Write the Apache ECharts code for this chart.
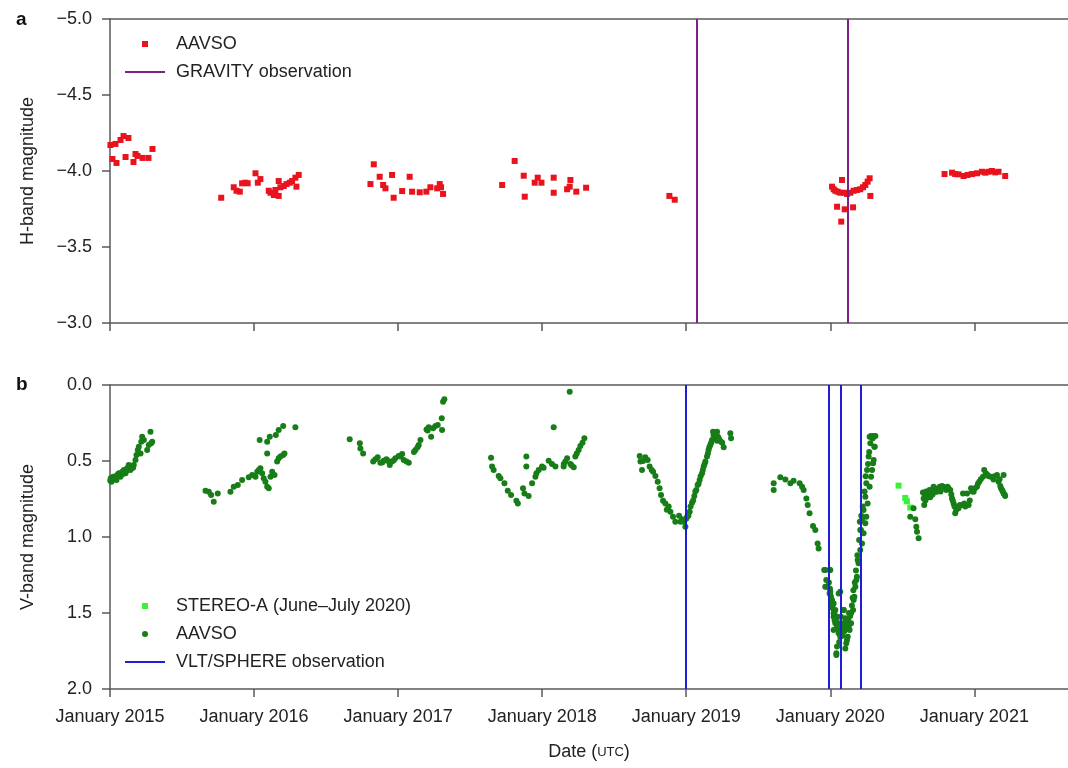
<!DOCTYPE html>
<html>
<head>
<meta charset="utf-8">
<script src="https://cdn.jsdelivr.net/npm/echarts@6/dist/echarts.min.js"></script>
<style>
  html, body { margin: 0; padding: 0; background: #fff; }
  #chart { width: 1068px; height: 768px; }
</style>
</head>
<body>
<div id="chart"></div>
<script>
// Betelgeuse light curves. Dates are decimal years (UTC), values are magnitudes.

// Panel a: H-band magnitudes from AAVSO
const hBandAavso = [
  [2015.003,-4.171],[2015.038,-4.178],[2015.073,-4.204],[2015.094,-4.230],[2015.128,-4.217],
  [2015.017,-4.079],[2015.045,-4.053],[2015.108,-4.092],[2015.163,-4.059],[2015.177,-4.112],
  [2015.191,-4.099],[2015.226,-4.086],[2015.267,-4.086],[2015.295,-4.145],
  [2015.772,-3.824],[2015.859,-3.893],[2015.878,-3.870],[2015.901,-3.864],[2015.917,-3.919],
  [2015.940,-3.923],[2015.956,-3.919],[2016.010,-3.985],[2016.026,-3.923],[2016.044,-3.947],
  [2016.102,-3.870],[2016.114,-3.857],[2016.137,-3.842],[2016.148,-3.875],[2016.171,-3.836],
  [2016.171,-3.934],[2016.183,-3.893],[2016.206,-3.901],[2016.225,-3.914],[2016.248,-3.923],
  [2016.264,-3.934],[2016.287,-3.956],[2016.294,-3.897],[2016.310,-3.974],
  [2016.831,-4.044],[2016.808,-3.914],[2016.872,-3.962],[2016.896,-3.908],[2016.912,-3.886],
  [2016.958,-3.974],[2016.969,-3.824],[2017.028,-3.868],[2017.080,-3.962],[2017.097,-3.864],
  [2017.150,-3.860],[2017.196,-3.864],[2017.224,-3.893],[2017.271,-3.886],[2017.289,-3.914],
  [2017.298,-3.893],[2017.312,-3.849],
  [2017.722,-3.908],[2017.809,-4.066],[2017.872,-3.969],[2017.879,-3.831],[2017.948,-3.923],
  [2017.969,-3.956],[2017.995,-3.923],[2018.080,-3.956],[2018.080,-3.857],[2018.173,-3.880],
  [2018.196,-3.941],[2018.191,-3.897],[2018.237,-3.864],[2018.305,-3.890],
  [2018.883,-3.836],[2018.920,-3.811],
  [2020.012,-3.897],[2020.023,-3.880],[2020.035,-3.870],[2020.051,-3.864],[2020.081,-3.941],
  [2020.069,-3.857],[2020.097,-3.857],[2020.116,-3.849],[2020.139,-3.857],[2020.162,-3.870],
  [2020.185,-3.875],[2020.208,-3.880],[2020.227,-3.893],[2020.243,-3.908],[2020.259,-3.930],
  [2020.273,-3.952],[2020.278,-3.836],[2020.047,-3.765],[2020.100,-3.748],[2020.158,-3.761],
  [2020.076,-3.667],
  [2020.793,-3.980],[2020.845,-3.989],[2020.867,-3.980],[2020.890,-3.978],[2020.925,-3.967],
  [2020.953,-3.974],[2020.983,-3.980],[2021.018,-3.985],[2021.053,-3.995],[2021.076,-3.989],
  [2021.099,-3.995],[2021.122,-4.000],[2021.145,-3.991],[2021.168,-3.995],[2021.214,-3.967]
];

// Panel b: V-band magnitudes from AAVSO
const vBandAavso = [
  // 2015 season
  [2015.005,0.614],[2015.010,0.636],[2015.015,0.625],[2015.022,0.603],[2015.030,0.603],
  [2015.038,0.614],[2015.045,0.625],[2015.050,0.592],[2015.060,0.592],[2015.061,0.581],
  [2015.073,0.603],[2015.080,0.581],[2015.085,0.570],[2015.096,0.559],[2015.100,0.570],
  [2015.108,0.581],[2015.119,0.548],[2015.120,0.559],[2015.130,0.526],[2015.140,0.548],
  [2015.142,0.559],[2015.154,0.537],[2015.165,0.526],[2015.177,0.493],[2015.184,0.461],
  [2015.193,0.428],[2015.200,0.406],[2015.212,0.450],[2015.217,0.373],[2015.223,0.340],
  [2015.235,0.362],[2015.258,0.428],[2015.269,0.395],[2015.281,0.307],[2015.293,0.373],
  [2015.286,0.384],[2015.002,0.630],[2015.026,0.620],[2015.056,0.600],[2015.090,0.585],
  [2015.113,0.560],[2015.136,0.535],[2015.160,0.545],
  // 2016 season
  [2015.663,0.695],[2015.686,0.702],[2015.702,0.724],[2015.720,0.768],[2015.748,0.713],
  [2015.836,0.702],[2015.859,0.669],[2015.887,0.658],[2015.917,0.625],[2015.963,0.607],
  [2015.987,0.592],[2016.010,0.603],[2016.022,0.570],[2016.033,0.559],[2016.044,0.548],
  [2016.056,0.581],[2016.067,0.614],[2016.079,0.636],[2016.091,0.669],[2016.102,0.680],
  [2016.114,0.603],[2016.126,0.570],[2016.142,0.592],[2016.160,0.504],[2016.171,0.482],
  [2016.183,0.471],[2016.202,0.461],[2016.211,0.450],[2016.039,0.362],[2016.091,0.373],
  [2016.109,0.340],[2016.091,0.450],[2016.171,0.296],[2016.202,0.270],[2016.287,0.278],
  [2016.151,0.329],
  // 2017 season
  [2016.664,0.357],[2016.734,0.384],[2016.738,0.417],[2016.757,0.450],[2016.827,0.504],
  [2016.842,0.489],[2016.858,0.476],[2016.877,0.511],[2016.900,0.498],[2016.919,0.489],
  [2016.942,0.526],[2016.958,0.504],[2016.981,0.482],[2017.004,0.467],[2017.028,0.454],
  [2017.039,0.493],[2017.058,0.504],[2017.074,0.511],[2017.120,0.428],[2017.143,0.395],
  [2017.155,0.362],[2017.197,0.292],[2017.212,0.278],[2017.229,0.340],[2017.243,0.285],
  [2017.259,0.270],[2017.275,0.263],[2017.303,0.219],[2017.305,0.296],[2017.312,0.110],
  [2017.321,0.094],[2016.890,0.510],[2016.930,0.500],[2016.970,0.495],[2017.015,0.470],
  [2017.110,0.440],[2017.135,0.410],[2017.205,0.300],
  // 2018 season
  [2017.645,0.478],[2017.652,0.537],[2017.663,0.559],[2017.698,0.599],[2017.710,0.614],
  [2017.738,0.647],[2017.761,0.695],[2017.784,0.724],[2017.821,0.761],[2017.831,0.779],
  [2017.867,0.680],[2017.877,0.713],[2017.906,0.730],[2017.890,0.471],[2017.890,0.537],
  [2017.930,0.647],[2017.953,0.603],[2017.976,0.559],[2017.999,0.537],[2018.045,0.498],
  [2018.068,0.520],[2018.092,0.537],[2018.149,0.537],[2018.161,0.504],[2018.173,0.482],
  [2018.196,0.520],[2018.219,0.541],[2018.230,0.471],[2018.253,0.428],[2018.265,0.401],
  [2018.293,0.351],[2018.080,0.278],[2018.191,0.044],[2017.960,0.580],[2018.010,0.545],
  [2018.150,0.520],[2018.205,0.530],[2018.240,0.450],[2018.280,0.380],
  // 2019 season
  [2018.677,0.467],[2018.682,0.504],[2018.693,0.559],[2018.716,0.476],[2018.732,0.493],
  [2018.746,0.537],[2018.770,0.570],[2018.786,0.599],[2018.802,0.636],[2018.825,0.724],
  [2018.839,0.761],[2018.855,0.779],[2018.878,0.800],[2018.890,0.834],[2018.908,0.866],
  [2018.924,0.899],[2018.971,0.884],[2018.994,0.932],[2019.006,0.866],[2019.024,0.834],
  [2019.040,0.774],[2019.056,0.730],[2019.070,0.691],[2019.079,0.658],[2019.093,0.625],
  [2019.110,0.581],[2019.121,0.537],[2019.133,0.504],[2019.144,0.471],[2019.155,0.428],
  [2019.167,0.395],[2019.179,0.362],[2019.186,0.307],[2019.202,0.340],[2019.214,0.366],
  [2019.225,0.351],[2019.242,0.373],[2019.260,0.410],[2019.214,0.307],[2019.306,0.318],
  [2019.311,0.351],[2018.700,0.500],[2018.760,0.560],[2018.815,0.680],[2018.865,0.820],
  [2018.950,0.860],[2018.960,0.900],[2018.985,0.900],[2019.000,0.880],[2019.015,0.860],
  [2019.030,0.800],[2019.048,0.760],[2019.063,0.700],[2019.086,0.650],[2019.100,0.600],
  [2019.115,0.560],[2019.127,0.520],[2019.150,0.450],[2019.160,0.410],[2019.173,0.380],
  [2019.190,0.330],[2019.196,0.320],[2019.208,0.330],[2019.220,0.340],[2019.230,0.360],
  [2019.250,0.380],
  // 2020 season and the Great Dimming
  [2019.607,0.647],[2019.607,0.691],[2019.653,0.607],[2019.688,0.621],[2019.723,0.647],
  [2019.745,0.630],[2019.787,0.647],[2019.804,0.669],[2019.815,0.691],[2019.834,0.746],
  [2019.843,0.789],[2019.856,0.844],[2019.880,0.928],[2019.896,0.954],[2019.912,1.042],
  [2019.919,1.075],[2019.958,1.217],[2019.995,1.217],[2019.972,1.283],[2019.977,1.327],
  [2020.000,1.360],[2020.012,1.414],[2020.023,1.437],[2020.035,1.480],[2020.047,1.524],
  [2020.051,1.590],[2020.058,1.634],[2020.069,1.656],[2020.047,1.721],[2020.042,1.765],
  [2020.081,1.612],[2020.093,1.568],[2020.104,1.535],[2020.111,1.699],[2020.121,1.656],
  [2020.134,1.612],[2020.144,1.568],[2020.158,1.480],[2020.167,1.393],[2020.174,1.327],
  [2020.185,1.261],[2020.196,1.173],[2020.208,1.086],[2020.213,0.954],[2020.220,0.888],
  [2020.231,0.822],[2020.243,0.735],[2020.250,0.647],[2020.255,0.559],[2020.266,0.471],
  [2020.278,0.384],[2020.283,0.336],[2020.301,0.336],[2020.306,0.406],[2020.297,0.515],
  [2020.290,0.559],[2020.023,1.524],[2020.035,1.568],[2020.093,1.480],[2020.074,1.524],
  [2020.065,1.568],[2020.208,0.954],[2020.220,1.042],[2020.190,1.151],[2020.181,1.283],
  [2020.162,1.414],[2020.144,1.502],[2020.128,1.590],[2020.116,1.678],[2020.104,1.733],
  [2020.042,1.776],[2019.995,1.371],[2019.965,1.327],[2019.965,1.217],[2020.000,1.217],
  [2020.023,1.502],[2020.023,1.612],[2020.058,1.371],[2020.069,1.360],[2020.093,1.480],
  [2020.273,0.340],[2020.313,0.336],[2020.308,0.406],[2020.301,0.493],[2020.283,0.603],
  [2020.273,0.669],[2020.259,0.779],[2020.250,0.866],[2020.243,0.910],[2020.231,0.976],
  [2019.990,1.300],[2019.998,1.340],[2020.004,1.390],[2020.008,1.420],[2020.015,1.450],
  [2020.018,1.470],[2020.028,1.500],[2020.030,1.550],[2020.040,1.540],[2020.044,1.600],
  [2020.055,1.580],[2020.060,1.600],[2020.062,1.690],[2020.072,1.620],[2020.078,1.580],
  [2020.085,1.650],[2020.088,1.600],[2020.097,1.620],[2020.100,1.570],[2020.107,1.600],
  [2020.113,1.560],[2020.125,1.540],[2020.130,1.500],[2020.138,1.520],[2020.150,1.450],
  [2020.155,1.400],[2020.160,1.350],[2020.170,1.300],[2020.178,1.220],[2020.188,1.120],
  [2020.200,1.020],[2020.205,0.900],[2020.215,0.860],[2020.225,0.800],[2020.238,0.700],
  [2020.245,0.600],[2020.262,0.520],[2020.270,0.440],[2020.288,0.345],[2020.295,0.350],
  // 2021 season
  [2020.578,0.811],[2020.555,0.866],[2020.590,0.884],[2020.597,0.932],[2020.602,0.965],
  [2020.613,1.009],[2020.643,0.708],[2020.648,0.746],[2020.652,0.789],[2020.671,0.724],
  [2020.682,0.702],[2020.694,0.739],[2020.706,0.691],[2020.717,0.669],[2020.740,0.702],
  [2020.752,0.680],[2020.775,0.664],[2020.798,0.680],[2020.814,0.669],[2020.833,0.691],
  [2020.845,0.746],[2020.856,0.779],[2020.874,0.822],[2020.867,0.844],[2020.890,0.811],
  [2020.914,0.789],[2020.937,0.800],[2020.960,0.789],[2020.921,0.713],[2020.949,0.713],
  [2020.977,0.680],[2020.995,0.702],[2021.018,0.669],[2021.034,0.636],[2021.060,0.603],
  [2021.068,0.559],[2021.092,0.592],[2021.115,0.603],[2021.133,0.621],[2021.157,0.592],
  [2021.168,0.636],[2021.180,0.664],[2021.192,0.691],[2021.203,0.713],[2021.214,0.730],
  [2021.203,0.592],[2020.655,0.720],[2020.660,0.760],[2020.665,0.700],[2020.676,0.740],
  [2020.688,0.690],[2020.700,0.700],[2020.710,0.720],[2020.725,0.680],[2020.730,0.700],
  [2020.745,0.690],[2020.760,0.670],[2020.765,0.700],[2020.785,0.670],[2020.805,0.690],
  [2020.820,0.680],[2020.840,0.720],[2020.850,0.760],[2020.862,0.800],[2020.880,0.800],
  [2020.900,0.790],[2020.930,0.780],[2020.968,0.760],[2020.985,0.700],[2021.005,0.680],
  [2021.025,0.650],[2021.045,0.620],[2021.080,0.580],[2021.100,0.600],[2021.140,0.600],
  [2021.175,0.620],[2021.185,0.680],[2021.198,0.700],[2021.210,0.720]
];

// Panel b: V-band magnitudes from STEREO-A (June–July 2020)
const vBandStereo = [
  [2020.474,0.662],[2020.520,0.743],[2020.532,0.765],[2020.555,0.806]
];

// Epochs of the interferometric / imaging observations
const gravityDates = [2019.070, 2020.118];
const sphereDates = [2019.001, 2019.986, 2020.074, 2020.210];

// Axis ranges and tick labels
const yearTicks = [2015, 2016, 2017, 2018, 2019, 2020, 2021];
const dateRange = [2015, 2021.65];
const hRange = [-5, -3];
const vRange = [0, 2];
const magStep = 0.5;

const legendNames = {
  hAavso: 'AAVSO',
  gravity: 'GRAVITY observation',
  stereo: 'STEREO-A (June\u2013July 2020)',
  vAavso: 'AAVSO',
  sphere: 'VLT/SPHERE observation'
};

const FONT = '"Liberation Sans", Arial, Helvetica, sans-serif';
const TEXT = '#222';
const AXIS = '#5a5a5a';
const RED = '#e8131d';
const PURPLE = '#7d2189';
const GREEN = '#177d17';
const LIME = '#3cf03c';
const BLUE = '#1e1ed8';

// Legend glyphs: a small square or a 2px line inside a 40x6 box
const ICON_SQUARE = 'path://M0,0M40,6M17,0h6v6h-6z';
const ICON_LINE = 'path://M0,0M40,6M0,2h40v2h-40z';

function magLabel(v) {
  return (v < 0 ? '\u2212' : '') + Math.abs(v).toFixed(1);
}

function dateAxis(gridIndex, withLabels) {
  return {
    type: 'value', gridIndex, min: dateRange[0], max: dateRange[1],
    axisLine: { show: true, onZero: false, lineStyle: { color: AXIS, width: 1.5 } },
    axisTick: { show: true, length: 8, customValues: yearTicks, lineStyle: { color: AXIS, width: 1.5 } },
    axisLabel: {
      show: withLabels, customValues: yearTicks, formatter: v => 'January ' + v,
      margin: 19, color: TEXT, fontSize: 18, fontFamily: FONT
    },
    splitLine: { show: false },
    name: withLabels ? '{a|Date (}{b|UTC}{a|)}' : '',
    nameLocation: 'middle', nameGap: 54,
    nameTextStyle: {
      rich: {
        a: { fontSize: 18, fontFamily: FONT, color: TEXT },
        b: { fontSize: 13, fontFamily: FONT, color: TEXT }
      }
    }
  };
}

function frameAxis(gridIndex) {
  return {
    type: 'value', gridIndex, position: 'top', min: dateRange[0], max: dateRange[1],
    axisLine: { show: true, onZero: false, lineStyle: { color: AXIS, width: 1.5 } },
    axisTick: { show: false }, axisLabel: { show: false }, splitLine: { show: false }
  };
}

function magAxis(gridIndex, range, name) {
  return {
    type: 'value', gridIndex, inverse: true, min: range[0], max: range[1], interval: magStep,
    axisLine: { show: true, onZero: false, lineStyle: { color: AXIS, width: 1.5 } },
    axisTick: { show: true, length: 8, lineStyle: { color: AXIS, width: 1.5 } },
    axisLabel: { formatter: magLabel, margin: 18, color: TEXT, fontSize: 18, fontFamily: FONT },
    splitLine: { show: false },
    name, nameLocation: 'middle', nameGap: 73,
    nameTextStyle: { fontSize: 18, fontFamily: FONT, color: TEXT }
  };
}

function epochSeries(id, dates, color, gridIndex) {
  return {
    name: id, type: 'line', xAxisIndex: gridIndex, yAxisIndex: gridIndex,
    data: [], symbol: 'none', lineStyle: { color, width: 2 }, itemStyle: { color },
    z: 5,
    markLine: {
      silent: true, symbol: ['none', 'none'], label: { show: false },
      lineStyle: { color, width: 2, type: 'solid' },
      emphasis: { disabled: true },
      data: dates.map(d => ({ xAxis: d }))
    }
  };
}

function legendBlock(items, top) {
  return {
    data: items, orient: 'vertical', left: 125, top, padding: 0,
    itemWidth: 40, itemHeight: 6, itemGap: 10, selectedMode: false,
    formatter: n => legendNames[n],
    textStyle: { fontSize: 18, lineHeight: 18, fontFamily: FONT, color: TEXT, padding: [0, 0, 0, 6] }
  };
}

const chart = echarts.init(document.getElementById('chart'), null, { renderer: 'canvas' });
chart.setOption({
  animation: false,
  backgroundColor: '#fff',
  title: [
    { text: 'a', left: 16, top: 10, padding: 0, textStyle: { fontSize: 19, fontWeight: 'bold', fontFamily: FONT, color: '#111' } },
    { text: 'b', left: 16, top: 375, padding: 0, textStyle: { fontSize: 19, fontWeight: 'bold', fontFamily: FONT, color: '#111' } }
  ],
  grid: [
    { left: 110, right: 0, top: 19, height: 304 },
    { left: 110, right: 0, top: 385, height: 304 }
  ],
  xAxis: [dateAxis(0, false), dateAxis(1, true), frameAxis(0), frameAxis(1)],
  yAxis: [magAxis(0, hRange, 'H-band magnitude'), magAxis(1, vRange, 'V-band magnitude')],
  legend: [
    legendBlock([
      { name: 'hAavso', icon: ICON_SQUARE },
      { name: 'gravity', icon: ICON_LINE }
    ], 35),
    legendBlock([
      { name: 'stereo', icon: ICON_SQUARE },
      { name: 'vAavso', icon: 'circle' },
      { name: 'sphere', icon: ICON_LINE }
    ], 597)
  ],
  series: [
    {
      name: 'hAavso', type: 'scatter', xAxisIndex: 0, yAxisIndex: 0,
      data: hBandAavso, symbol: 'rect', symbolSize: 6,
      itemStyle: { color: RED, opacity: 1 }, z: 3
    },
    epochSeries('gravity', gravityDates, PURPLE, 0),
    {
      name: 'stereo', type: 'scatter', xAxisIndex: 1, yAxisIndex: 1,
      data: vBandStereo, symbol: 'rect', symbolSize: 6,
      itemStyle: { color: LIME, opacity: 1 }, z: 3
    },
    {
      name: 'vAavso', type: 'scatter', xAxisIndex: 1, yAxisIndex: 1,
      data: vBandAavso, symbol: 'circle', symbolSize: 6,
      itemStyle: { color: GREEN, opacity: 1 }, z: 3
    },
    epochSeries('sphere', sphereDates, BLUE, 1)
  ]
});
</script>
</body>
</html>
